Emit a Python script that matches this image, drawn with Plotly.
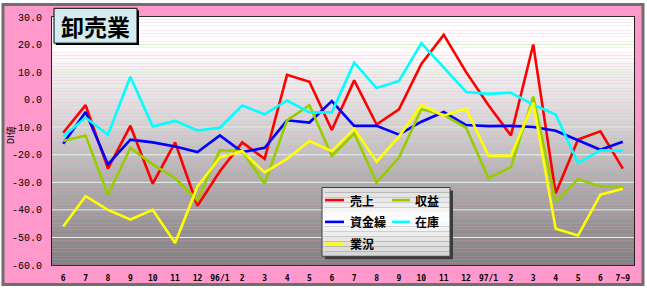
import plotly.graph_objects as go

# ---------------- data ----------------
months = ["6", "7", "8", "9", "10", "11", "12", "96/1", "2", "3", "4", "5", "6",
          "7", "8", "9", "10", "11", "12", "97/1", "2", "3", "4", "5", "6", "7~9"]

sales = [-12, -2, -25, -9.5, -30.5, -15.5, -38.5, -26, -15.5, -21.5, 9, 6.5, -11,
         7, -9, -3.5, 13, 23.5, 10, -2, -13, 20, -34, -14.5, -11.5, -25]
profit = [-15, -13, -34.5, -17.5, -23.5, -28.5, -36.5, -18.3, -18.7, -30.5, -7.5, -2, -20.4,
          -12.3, -30, -21, -3.5, -5.5, -10.2, -28.5, -24.5, 1.1, -37, -28.8, -31.5, -31.7]
funds = [-16, -4.5, -23.5, -14.5, -15.5, -17, -19, -13, -19, -17.5, -7.5, -8.3, -0.5,
         -9.5, -9.5, -12.7, -8, -4.5, -9.2, -9.6, -9.5, -9.9, -11.3, -14.8, -18.2, -15.3]
stock = [-13.4, -6.5, -12.7, 8.3, -9.7, -7.7, -11.2, -10.2, -2.1, -5.3, -0.3, -4.6, -4.6,
         13.4, 4.2, 6.8, 20.5, 11.5, 2.8, 2.1, 2.5, -1.8, -5.4, -23, -18.4, -18.6]
business = [-46, -35, -40, -43.5, -40, -52, -31.5, -21, -18.7, -26.4, -21.5, -15, -18.7,
            -10.6, -22.5, -13.4, -2, -5.8, -3.2, -20.4, -20.4, -1.1, -46.8, -49.3, -34.5, -32.3]

series_names = ["売上", "収益", "資金繰", "在庫", "業況"]
series_values = [sales, profit, funds, stock, business]
series_colors = ["#FF0000", "#99CC00", "#0000FF", "#00FFFF", "#FFFF00"]

y_ticks = [30, 20, 10, 0, -10, -20, -30, -40, -50, -60]
title_text = "卸売業"
y_title = "DI値"

# ---------------- layout geometry ----------------
W, H = 647, 295
L, R, T, B = 52, 13, 16, 23
PW, PH = W - L - R, H - T - B
ymin, ymax = -60, 30


def px(x):
    return (x - L) / PW


def py(y):
    return (H - B - y) / PH


xs = list(range(len(months)))
fig = go.Figure()

draw_order = [0, 2, 1, 3, 4]
for k in draw_order:
    fig.add_trace(go.Scatter(
        x=xs, y=series_values[k], mode="lines", name=series_names[k],
        line=dict(color=series_colors[k], width=2.6), showlegend=False,
        hoverinfo="skip"))

shapes = []
# outer pink frame
shapes.append(dict(type="rect", xref="paper", yref="paper",
                   x0=px(3), x1=px(643), y0=py(3), y1=py(292),
                   fillcolor="#FF99CC", line=dict(color="#6E6E6E", width=3),
                   layer="below"))

# plot background gradient
anchors = [(30, 255), (18, 255), (14, 247), (10, 240), (0, 226), (-10, 210),
           (-20, 192), (-30, 174), (-40, 158), (-50, 142), (-60, 128)]


def grey_at(v):
    for (a, ca), (b, cb) in zip(anchors[:-1], anchors[1:]):
        if b <= v <= a:
            t = (a - v) / (a - b)
            return int(round(ca + (cb - ca) * t))
    return anchors[-1][1]


step = 1
v = ymax
while v > ymin:
    g = grey_at(v - step / 2)
    shapes.append(dict(type="rect", xref="x domain", yref="y", x0=0, x1=1,
                       y0=v - step, y1=v, fillcolor=f"rgb({g},{g},{g})",
                       line=dict(width=0), layer="below"))
    v -= step

# grid lines
for t in y_ticks:
    if t in (ymax, ymin, 0):
        continue
    col = "#D4F2C4" if t > -20 else "#F0F0F0"
    shapes.append(dict(type="line", xref="x domain", yref="y", x0=0, x1=1,
                       y0=t, y1=t, line=dict(color=col, width=1), layer="below"))

# title box
shapes.append(dict(type="rect", xref="paper", yref="paper",
                   x0=px(56), x1=px(139), y0=py(9), y1=py(45),
                   fillcolor="#000000", line=dict(width=0), layer="above"))
shapes.append(dict(type="rect", xref="paper", yref="paper",
                   x0=px(54), x1=px(137), y0=py(7), y1=py(43),
                   fillcolor="#D4ECF0", line=dict(color="#000000", width=1), layer="above"))

# legend box
shapes.append(dict(type="rect", xref="paper", yref="paper",
                   x0=px(325), x1=px(453), y0=py(195), y1=py(266),
                   fillcolor="#3C3C3C", line=dict(width=0), layer="above"))
lg_top, lg_bot = 192, 263
nb = 14
for i in range(nb):
    y0p = lg_top + (lg_bot - lg_top) * i / nb
    y1p = lg_top + (lg_bot - lg_top) * (i + 1) / nb
    mid = (i + 0.5) / nb
    g = int(round(255 - 40 * abs(mid - 0.45) * 2))
    shapes.append(dict(type="rect", xref="paper", yref="paper",
                       x0=px(322), x1=px(450), y0=py(y0p), y1=py(y1p),
                       fillcolor=f"rgb({g},{g},{g})", line=dict(width=0), layer="above"))
shapes.append(dict(type="rect", xref="paper", yref="paper",
                   x0=px(322), x1=px(450), y0=py(192), y1=py(263),
                   fillcolor="rgba(0,0,0,0)", line=dict(color="#404040", width=1), layer="above"))

annotations = []
col_line_x = [(325, 344), (392, 410)]
col_text_x = [348, 413]
row_y = [205, 227.5, 250]
for k, name in enumerate(series_names):
    r, c = divmod(k, 2)
    shapes.append(dict(type="line", xref="paper", yref="paper",
                       x0=px(col_line_x[c][0]), x1=px(col_line_x[c][1]),
                       y0=py(row_y[r]), y1=py(row_y[r]),
                       line=dict(color=series_colors[k], width=2.6), layer="above"))
    annotations.append(dict(xref="paper", yref="paper", x=px(col_text_x[c]), y=py(row_y[r]),
                            xanchor="left", yanchor="middle", showarrow=False, text=name,
                            font=dict(family="Noto Sans CJK JP", size=12, color="#000000",
                                      weight="bold")))

annotations.append(dict(xref="paper", yref="paper", x=px(95.5), y=py(25),
                        xanchor="center", yanchor="middle", showarrow=False, text=title_text,
                        font=dict(family="Noto Sans CJK JP", size=23, color="#000000",
                                  weight="bold")))
annotations.append(dict(xref="paper", yref="paper", x=px(10), y=py(138),
                        xanchor="center", yanchor="middle", showarrow=False, text=y_title,
                        textangle=-90,
                        font=dict(family="Noto Sans CJK JP", size=9, color="#000000")))

fig.update_layout(
    width=W, height=H,
    margin=dict(l=L, r=R, t=T, b=B, pad=0),
    paper_bgcolor="#FFFFFF", plot_bgcolor="#FFFFFF",
    showlegend=False,
    shapes=shapes, annotations=annotations,
    xaxis=dict(range=[-0.5, len(months) - 0.5], tickvals=xs, ticktext=months,
               showgrid=False, zeroline=False, showline=True, linecolor="#303030",
               linewidth=1, mirror=True, ticks="outside", ticklen=5,
               tickcolor="rgba(0,0,0,0)",
               tickfont=dict(family="DejaVu Sans Mono", size=8, color="#000000",
                             weight="bold")),
    xaxis2=dict(overlaying="x", anchor="free",
                position=(0 - ymin) / (ymax - ymin),
                range=[-0.5, len(months) - 0.5],
                tickvals=[i - 0.5 for i in range(len(months) + 1)],
                ticks="inside", ticklen=2, tickwidth=1, tickcolor="#303030",
                showticklabels=False, showgrid=False, zeroline=False,
                showline=True, linecolor="#555555", linewidth=2,
                layer="below traces"),
    yaxis=dict(range=[ymin, ymax], tickvals=y_ticks,
               ticktext=[f"{t:.1f}" for t in y_ticks],
               showgrid=False, zeroline=False, showline=True, linecolor="#202020",
               linewidth=1, mirror=True, ticks="outside", ticklen=7,
               tickcolor="rgba(0,0,0,0)",
               tickfont=dict(family="Liberation Mono", size=10, color="#000000")),
)

fig.write_html("out.html")
